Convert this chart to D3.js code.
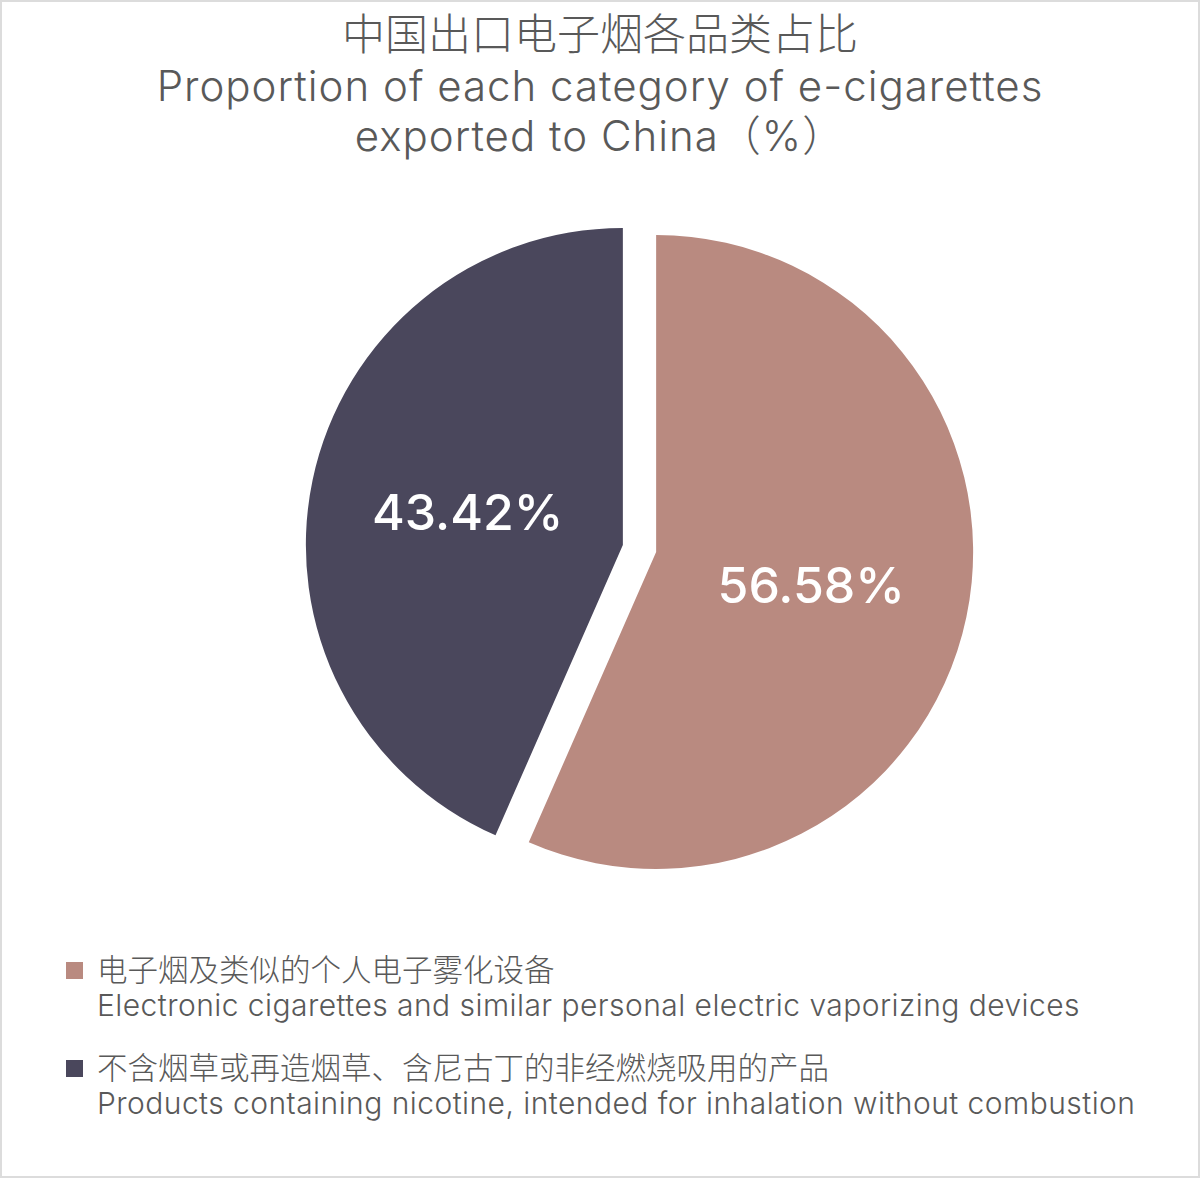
<!DOCTYPE html>
<html lang="zh">
<head>
    <meta charset="UTF-8">
    <title>中国出口电子烟各品类占比</title>
    <script src="https://d3js.org/d3.v7.min.js"></script>
    <style>
        body { margin: 0; background: #fff; }
        svg text { font-family: Inter, "Noto Sans CJK SC", sans-serif; }
    </style>
</head>
<body>
    <div id="chart"></div>
    <script>

// data
var categoriesZh = ['电子烟及类似的个人电子雾化设备', '不含烟草或再造烟草、含尼古丁的非经燃烧吸用的产品'];
var categoriesEn = ['Electronic cigarettes and similar personal electric vaporizing devices',
                    'Products containing nicotine, intended for inhalation without combustion'];
var shares = [56.58, 43.42];
var colors = ['#b98a80', '#4a475c'];
var titleLines = ['中国出口电子烟各品类占比', 'Proportion of each category of e-cigarettes', 'exported to China（%）'];

var width = 1200, height = 1178;
var cx = 639.5, cy = 548.5, radius = 317, explode = 17;

var svg = d3.select('#chart').append('svg')
    .attr('width', width)
    .attr('height', height);

svg.append('rect')
    .attr('x', 1).attr('y', 1)
    .attr('width', width - 2).attr('height', height - 2)
    .attr('fill', '#fff')
    .attr('stroke', '#dcdcdc')
    .attr('stroke-width', 2);

// title
var titleY = [50, 101, 151];
var titleSize = [43, 42, 42];
var titleSpacing = [0, 1, 1];
svg.selectAll('text.title')
    .data(titleLines)
    .enter()
    .append('text')
    .attr('class', 'title')
    .attr('x', width / 2)
    .attr('y', function(d, i) { return titleY[i]; })
    .attr('text-anchor', 'middle')
    .attr('font-size', function(d, i) { return titleSize[i]; })
    .attr('letter-spacing', function(d, i) { return titleSpacing[i]; })
    .attr('font-weight', 300)
    .attr('fill', '#595959')
    .text(function(d) { return d; });

// pie
var pie = d3.pie().sort(null).value(function(d) { return d; });
var arc = d3.arc().innerRadius(0).outerRadius(radius);
var labelArc = d3.arc().innerRadius(radius / 2).outerRadius(radius / 2);

var slices = svg.append('g')
    .attr('transform', 'translate(' + cx + ',' + cy + ')')
    .selectAll('g.slice')
    .data(pie(shares))
    .enter()
    .append('g')
    .attr('class', 'slice')
    .attr('transform', function(d) {
        var a = (d.startAngle + d.endAngle) / 2;
        return 'translate(' + (Math.sin(a) * explode) + ',' + (-Math.cos(a) * explode) + ')';
    });

slices.append('path')
    .attr('d', arc)
    .attr('fill', function(d, i) { return colors[i]; });

slices.append('text')
    .attr('transform', function(d) { return 'translate(' + labelArc.centroid(d) + ')'; })
    .attr('text-anchor', 'middle')
    .attr('dy', '0.36em')
    .attr('font-size', 50)
    .attr('font-weight', 500)
    .attr('fill', '#fff')
    .text(function(d) { return d3.format('.2f')(d.data) + '%'; });

// legend
var legendTop = [962, 1060];
var legend = svg.selectAll('g.legend')
    .data(categoriesZh)
    .enter()
    .append('g')
    .attr('class', 'legend')
    .attr('transform', function(d, i) { return 'translate(66,' + legendTop[i] + ')'; });

legend.append('rect')
    .attr('width', 17).attr('height', 17)
    .attr('fill', function(d, i) { return colors[i]; });

legend.append('text')
    .attr('x', 31).attr('y', 19)
    .attr('font-size', 30.5)
    .attr('font-weight', 300)
    .attr('fill', '#595959')
    .text(function(d) { return d; });

legend.append('text')
    .attr('x', 31).attr('y', 54)
    .attr('font-size', 30)
    .attr('letter-spacing', 0.45)
    .attr('font-weight', 300)
    .attr('fill', '#595959')
    .text(function(d, i) { return categoriesEn[i]; });

    </script>
</body>
</html>
